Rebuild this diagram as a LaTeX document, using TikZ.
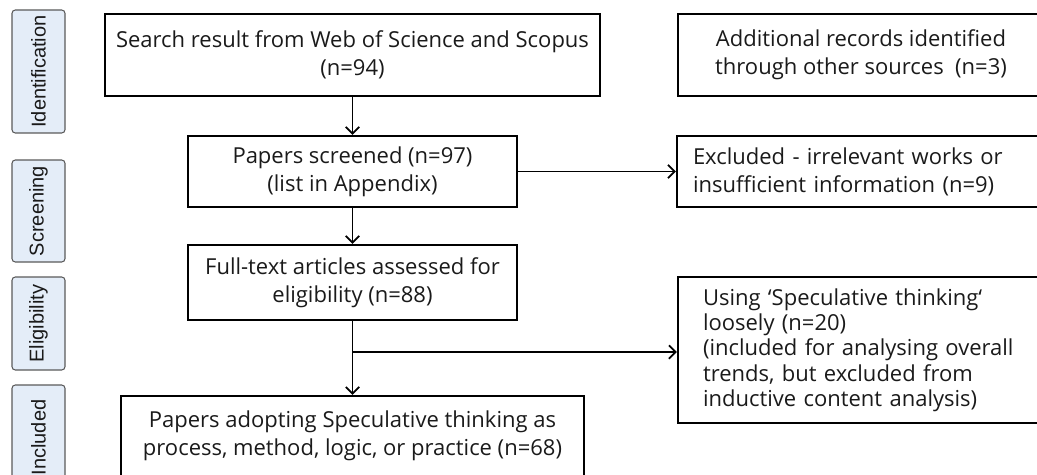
\documentclass[tikz,border=0pt]{standalone}
\usepackage{fontspec}
\setmainfont{Open Sans}
\newfontfamily\labelfont{Liberation Sans}
\usetikzlibrary{arrows.meta}
\definecolor{phasefill}{HTML}{E4EDF8}
\definecolor{phasedraw}{HTML}{5A5A5A}
\definecolor{inktext}{HTML}{1A1A1A}
\tikzset{
  x=0.75pt, y=-0.75pt,
  flowbox/.style={draw=black, line width=1.8pt, inner sep=0pt, align=center,
    text=inktext, font=\fontsize{16.5}{21}\selectfont},
  sidebox/.style={draw=black, line width=1.8pt, inner ysep=0pt, align=left,
    text=inktext, font=\fontsize{16.5}{21}\selectfont},
  phase/.style={draw=phasedraw, line width=0.8pt, fill=phasefill, rounded corners=2.5pt,
    inner sep=0pt, rotate=90, text=inktext, font=\labelfont\fontsize{15}{18}\selectfont},
  flow/.style={line width=1.3pt, -{Straight Barb[length=5pt,width=10pt,line width=1.3pt]}},
}
\begin{document}
\begin{tikzpicture}
\useasboundingbox (0,0) rectangle (1037,474);
\clip (0,0) rectangle (1037,474);

% phase labels down the left side
\node[phase, minimum width=123*0.75pt, minimum height=53*0.75pt] (pid) at (38.5,71.5) {Identification};
\node[phase, minimum width=102*0.75pt, minimum height=53*0.75pt] (psc) at (38.5,211) {Screening};
\node[phase, minimum width=93*0.75pt, minimum height=53*0.75pt] (pel) at (38.5,323.5) {Eligibility};
\node[phase, minimum width=105*0.75pt, minimum height=53*0.75pt] (pin) at (38.5,437.5) {Included};

% main column
\node[flowbox, minimum width=495*0.75pt, minimum height=82*0.75pt] (search) at (352.5,55)
  {Search result from Web of Science and Scopus\\(n=94)};
\node[flowbox, minimum width=329*0.75pt, minimum height=71*0.75pt] (screened) at (352.5,171.5)
  {Papers screened (n=97)\\(list in Appendix)};
\node[flowbox, minimum width=329*0.75pt, minimum height=75*0.75pt] (full) at (352.5,282.5)
  {Full-text articles assessed for\\eligibility (n=88)};
\node[flowbox, minimum width=463*0.75pt, minimum height=80*0.75pt] (incl) at (352.5,436)
  {Papers adopting Speculative thinking as\\process, method, logic, or practice (n=68)};

% right column
\node[flowbox, minimum width=366*0.75pt, minimum height=82*0.75pt] (extra) at (861,55)
  {Additional records identified\\through other sources\ \ (n=3)};
\node[sidebox, inner xsep=16*0.75pt, text width=335*0.75pt, minimum height=71*0.75pt] (excl) at (860.5,171.5)
  {Excluded - irrelevant works or\\insufficient information (n=9)};
\node[sidebox, inner xsep=25*0.75pt, text width=316*0.75pt, minimum height=146*0.75pt,
  font=\fontsize{16.5}{19}\selectfont] (loose) at (861,350)
  {Using ‘Speculative thinking‘\\loosely (n=20)\\(included for analysing overall\\trends, but excluded from\\inductive content analysis)};

% connectors
\draw[flow] (search) -- (screened);
\draw[flow] (screened) -- (full);
\draw[flow] (screened.east) -- (excl.west);
\draw[flow] (full) -- (incl);
\coordinate (split) at (352.5,352);
\draw[flow] (split) -- (split -| loose.west);
\end{tikzpicture}
\end{document}
